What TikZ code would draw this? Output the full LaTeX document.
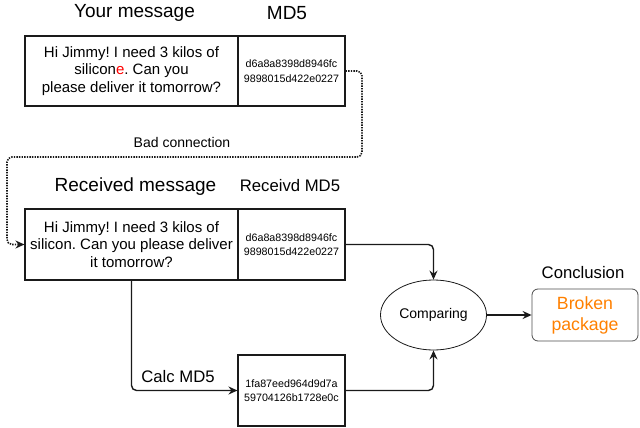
\documentclass[tikz,border=0pt]{standalone}
\usepackage{fontspec}
\setmainfont{Liberation Sans}
\usetikzlibrary{arrows.meta,shapes.geometric}
\definecolor{lineC}{HTML}{1A1A1A}
\definecolor{orangeC}{HTML}{FF8000}
\frenchspacing
\begin{document}
\begin{tikzpicture}[x=1pt,y=-1pt,
  box/.style={draw=lineC,line width=1.1pt,rectangle,inner sep=0pt,align=center,minimum height=70pt},
  msgbox/.style={box,minimum width=213pt,font=\fontsize{15}{17.5}\selectfont},
  hashbox/.style={box,minimum width=107pt,font=\fontsize{10.7}{14.5}\selectfont},
  title/.style={inner sep=0pt,font=\fontsize{19}{22}\selectfont},
  subtitle/.style={inner sep=0pt,font=\fontsize{16.7}{20}\selectfont},
  conn/.style={draw=lineC,line width=1.4pt,rounded corners=5pt},
  arr/.style={conn,-{Stealth[length=9pt,width=8pt,inset=3pt]}},
  dotline/.style={draw=lineC,line width=1.6pt,dash pattern=on 1.4pt off 1.2pt,rounded corners=5pt,-{Stealth[length=9pt,width=8pt,inset=3pt]}}
]
\useasboundingbox (0,0) rectangle (640,428);
% top
\node[title] (t1) at (134.5,13) {Your message};
\node[title] (t2) at (287,13) {MD5};
\node[msgbox] (msg) at (131.5,71) {Hi Jimmy! I need 3 kilos of\\silicon{\color{red}e}. Can you\\please deliver it tomorrow?};
\node[hashbox] (md5) at (291.5,71) {d6a8a8398d8946fc\\9898015d422e0227};
% bad connection
\node[inner sep=0pt,font=\fontsize{14}{16}\selectfont] (bad) at (182,142) {Bad connection};
% received
\node[title] (t3) at (135.5,187) {Received message};
\node[subtitle] (t4) at (290,186) {Receivd MD5};
\node[msgbox,minimum height=71pt] (rmsg) at (131.5,244.5) {Hi Jimmy! I need 3 kilos of\\silicon. Can you please deliver\\it tomorrow?};
\node[hashbox,minimum height=71pt] (rmd5) at (291.5,244.5) {d6a8a8398d8946fc\\9898015d422e0227};
% calc
\node[hashbox,minimum height=71pt] (calc) at (291.5,390.5) {1fa87eed964d9d7a\\59704126b1728e0c};
\node[subtitle] (cl) at (178,377) {Calc MD5};
% compare
\node[draw=lineC,line width=0.8pt,ellipse,minimum width=106pt,minimum height=70pt,inner sep=0pt,font=\fontsize{14}{16}\selectfont] (cmp) at (433.5,315) {Comparing};
% conclusion
\node[subtitle] (t5) at (583,273) {Conclusion};
\node[draw=black!70,line width=0.8pt,rounded corners=6pt,minimum width=106pt,minimum height=52pt,inner sep=0pt,align=center,text=orangeC,font=\fontsize{17.7}{21}\selectfont] (concl) at (585,315) {Broken\\package};
% connectors
\coordinate (d1) at (362,157);
\coordinate (d2) at (7,157);
\draw[dotline] (md5.east) -| (d1) -- (d2) |- (rmsg.west);
\draw[arr] (rmd5.east) -| (cmp.north);
\draw[arr] (rmsg.south) |- (calc.west);
\draw[arr] (calc.east) -| (cmp.south);
\draw[arr,rounded corners=0pt] (cmp.east) -- (concl.west);
\end{tikzpicture}
\end{document}
